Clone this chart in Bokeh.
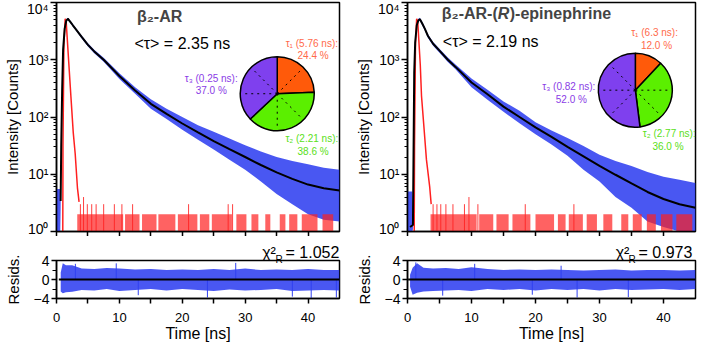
from bokeh.plotting import figure
from bokeh.layouts import row, column
from bokeh.models import Label, FixedTicker, Range1d, LinearAxis
from bokeh.embed import file_html
from bokeh.resources import INLINE

FONT = "Liberation Sans"
BLUE = "#3040F0"
RED = "#FF2020"

# ---------------- data ----------------
# left panel: beta2-AR
fit_t_L = [0.66, 0.75, 0.9, 1.05, 1.3, 1.55, 1.8, 2.2, 2.6, 3.0, 4.0, 5.0, 6.0, 7.5, 10, 12.5, 15, 17.5, 20, 22.5, 25, 27.5, 30, 32.5, 35, 37.5, 40, 42.5, 45]
fit_L = [3.4, 30, 300, 1500, 3500, 4800, 5200, 4600, 4000, 3500, 2500, 1820, 1400, 1000, 520, 290, 170, 113, 77, 54, 38, 27.5, 20, 14.5, 10.8, 8.3, 6.6, 5.7, 5.2]
data_t_L = [0.0, 0.6, 0.66, 0.75, 0.9, 1.05, 1.3, 1.55, 1.8, 2.2, 2.6, 3.0, 4.0, 5.0, 6.0, 7.5, 10, 12.5, 15, 17.5, 20, 22.5, 25, 27.5, 30, 32.5, 35, 37.5, 40, 42.5, 45]
data_hi_L = [5.5, 5.5, 5, 35, 330, 1600, 3700, 5000, 5400, 4800, 4200, 3650, 2650, 1950, 1500, 1080, 580, 330, 205, 140, 100, 72, 55, 42, 32, 25, 20, 17, 15, 13, 12]
data_lo_L = [1, 1, 2.5, 25, 270, 1400, 3300, 4600, 5000, 4400, 3800, 3350, 2350, 1700, 1300, 920, 460, 255, 140, 92, 60, 40, 27, 18, 12, 7.5, 4.5, 3, 2, 1.6, 1.5]
irf_t_L = [1.0, 1.03, 1.18, 1.38, 1.53, 1.95, 2.3, 2.66, 2.97, 3.33, 3.59]
irf_L = [1, 31, 1800, 5200, 4800, 890, 220, 54, 23, 5.8, 3.3]
floor_t0_L = [3.3, 10.9, 13.6, 16.2, 19.3, 22.8, 24.7, 28.6, 31.0, 33.2, 35.5, 37.0, 39.0, 42.3]
floor_t1_L = [10.6, 13.2, 15.9, 18.9, 22.4, 24.3, 27.9, 30.2, 32.1, 34.0, 36.4, 38.3, 41.5, 44.0]
bar_t_L = [3.8, 4.3, 4.9, 5.6, 6.3, 7.5, 9.2, 10.4, 12.1, 21.0, 27.3, 28.0]
bar_v_L = [3, 4, 3, 3, 3, 3, 3, 3, 3, 3, 3, 3]
res_t_L = [0.67, 1.0, 1.5, 2.5, 4, 6, 8, 10, 12.5, 15, 17.5, 20, 22.5, 25, 27.5, 30, 32.5, 35, 37.5, 40, 42.5, 45]
res_hi_L = [1.5, 3.4, 3.0, 3.0, 2.3, 2.2, 2.4, 2.3, 2.1, 2.2, 2.0, 2.1, 2.0, 2.2, 2.0, 2.3, 2.0, 2.1, 2.0, 2.2, 2.0, 2.0]
res_lo_L = [-2.5, -2.9, -2.7, -2.6, -2.2, -2.3, -2.0, -2.4, -2.2, -2.0, -2.3, -2.0, -2.2, -2.4, -2.1, -2.3, -2.2, -2.0, -2.4, -2.3, -2.2, -2.3]
spike_t_L = [3.0, 9.5, 13.0, 24.0, 28.5, 37.5, 40.5, 44.5]
spike_v_L = [3.3, 3.4, -3.3, -3.8, 3.5, -3.6, -3.9, -3.8]
frac_L = [24.4, 38.6, 37.0]
tau_L = ["5.76", "2.21", "0.25"]
mean_tau_L = "2.35"
chi_L = "1.052"

# right panel: beta2-AR-(R)-epinephrine
fit_t_R = [0.4, 0.85, 0.95, 1.05, 1.2, 1.45, 1.7, 1.94, 2.3, 2.7, 3.2, 4.0, 5.0, 6.3, 7.5, 10, 12.5, 15, 17.5, 20, 22.5, 25, 27.5, 30, 32.5, 35, 37.5, 40, 42.5, 45]
fit_R = [1.2, 1.3, 30, 600, 2000, 4000, 4900, 5100, 4300, 3500, 2600, 1900, 1440, 1000, 750, 400, 250, 152, 100, 66, 45, 30, 20.5, 14, 9.8, 6.9, 4.9, 3.7, 3.0, 2.6]
data_t_R = [0.0, 0.75, 0.85, 0.95, 1.05, 1.2, 1.45, 1.7, 1.94, 2.3, 2.7, 3.2, 4.0, 5.0, 6.3, 7.5, 10, 12.5, 15, 17.5, 20, 22.5, 25, 27.5, 30, 32.5, 35, 37.5, 40, 42.5, 45]
data_hi_R = [5, 5, 2, 40, 700, 2200, 4300, 5200, 5400, 4600, 3750, 2800, 2050, 1560, 1090, 830, 470, 300, 187, 128, 81, 58, 43, 31, 22, 17, 14, 11, 9, 8, 7]
data_lo_R = [1, 1, 1.1, 25, 500, 1800, 3700, 4600, 4800, 4000, 3250, 2400, 1750, 1320, 910, 680, 330, 200, 123, 78, 50, 33, 21, 12, 7.5, 4, 2.6, 1.5, 1.2, 1, 1]
irf_t_R = [1.05, 1.1, 1.25, 1.43, 1.6, 2.0, 2.19, 2.6, 2.96, 3.47, 3.7]
irf_R = [1, 30, 1900, 5200, 4600, 800, 233, 60, 18, 6, 3]
floor_t0_R = [3.6, 11.2, 13.9, 16.4, 20.0, 23.5, 25.2, 28.0, 30.6, 33.4, 35.2, 37.4, 39.6, 42.0]
floor_t1_R = [10.8, 13.4, 15.8, 19.2, 22.9, 24.7, 27.4, 29.6, 32.0, 34.5, 36.6, 38.8, 41.4, 44.5]
bar_t_R = [4.0, 4.6, 5.2, 6.0, 7.1, 8.9, 9.6, 11.0, 18.4, 26.0]
bar_v_R = [3, 3, 3, 3, 3, 3, 4, 3, 3, 3]
res_t_R = [0.4, 0.8, 1.5, 2.5, 4, 6, 8, 10, 12.5, 15, 17.5, 20, 22.5, 25, 27.5, 30, 32.5, 35, 37.5, 40, 42.5, 45]
res_hi_R = [1.0, 2.5, 3.4, 2.5, 2.3, 2.4, 2.2, 2.6, 2.2, 2.0, 2.1, 2.0, 2.1, 2.0, 1.9, 2.0, 2.1, 1.9, 2.0, 2.0, 1.9, 2.0]
res_lo_R = [-1.5, -3.2, -2.8, -2.5, -2.4, -2.3, -2.2, -2.4, -2.0, -2.2, -2.0, -2.3, -2.0, -2.2, -2.0, -2.3, -2.0, -2.2, -2.1, -2.0, -2.2, -2.0]
spike_t_R = [1.3, 5.5, 10.5, 19.5, 26.5, 34.5, 24.0]
spike_v_R = [3.6, -3.4, 3.3, -3.2, -3.8, -3.7, 2.9]
frac_R = [12.0, 36.0, 52.0]
tau_R = ["6.3", "2.77", "0.82"]
mean_tau_R = "2.19"
chi_R = "0.973"

PIE_COLORS = ["#FF5A0A", "#5BEF00", "#7F40EE"]
TXT_COLORS = ["#FF6A4A", "#5AE020", "#8A3CE6"]


def style_axis(ax, size):
    ax.axis_line_width = 1.5
    ax.axis_line_color = "black"
    ax.major_tick_line_width = 1.5
    ax.minor_tick_line_width = 1.2
    ax.major_tick_in = 0
    ax.minor_tick_in = 0
    ax.major_label_text_font = FONT
    ax.major_label_text_font_size = size
    ax.major_label_text_color = "black"
    ax.axis_label_text_font = FONT
    ax.axis_label_text_font_style = "normal"
    ax.axis_label_text_color = "black"


def main_panel(fw, bl, br, fit_t, fit, dt, dhi, dlo, it, iv, f0, f1, bt, bv, fracs, taus, mtau, layout):
    p = figure(width=fw + bl + br, height=236,
               x_range=Range1d(0, 45), y_range=Range1d(1, 1e4),
               y_axis_type="log", output_backend="svg", toolbar_location=None,
               min_border_left=bl, min_border_right=br, min_border_top=2, min_border_bottom=5)
    p.grid.visible = False
    p.outline_line_color = "black"
    p.outline_line_width = 1.5
    p.outline_line_alpha = 1
    # y axis
    style_axis(p.yaxis[0], "14px")
    p.yaxis.ticker = FixedTicker(ticks=[1, 10, 100, 1000, 10000],
                                 minor_ticks=[m * d for d in (1, 10, 100, 1000) for m in range(2, 10)])
    p.yaxis.major_label_overrides = {1: "10⁰", 10: "10¹", 100: "10²", 1000: "10³", 10000: "10⁴"}
    p.yaxis.major_tick_out = 6
    p.yaxis.minor_tick_out = 3
    p.yaxis.axis_label = "Intensity [Counts]"
    p.yaxis.axis_label_text_font_size = "15px"
    p.yaxis.major_label_standoff = 2
    p.yaxis.axis_label_standoff = 3
    # x axis: tick marks only (labels are on the residual panel)
    style_axis(p.xaxis[0], "13px")
    p.xaxis.ticker = FixedTicker(ticks=[], minor_ticks=[0, 5, 10, 15, 20, 25, 30, 35, 40])
    p.xaxis.major_tick_out = 0
    p.xaxis.major_label_standoff = 0
    p.xaxis.minor_tick_out = 5
    p.xaxis.minor_tick_line_width = 1.5

    p.varea(x=dt, y1=dlo, y2=dhi, fill_color=BLUE, fill_alpha=0.88)
    p.quad(left=f0, right=f1, bottom=[1] * len(f0), top=[2] * len(f0), fill_color=RED,
           fill_alpha=0.7, line_color=None)
    p.segment(x0=bt, y0=[1] * len(bt), x1=bt, y1=bv, line_color=RED, line_width=1, alpha=0.85)
    p.line(it, iv, line_color=RED, line_width=1.5)
    p.line(fit_t, fit, line_color="black", line_width=2)

    # pie of amplitude fractions
    cx, cy = layout["pie"]
    starts, ends = [], []
    a = 90.0
    for f in fracs:
        starts.append(a)
        a -= f * 3.6
        ends.append(a)
    p.wedge(x=[cx] * 3, y=[cy] * 3, radius=37, radius_units="screen",
            start_angle=starts, end_angle=ends, start_angle_units="deg", end_angle_units="deg",
            direction="clock", fill_color=PIE_COLORS, line_color="black", line_width=1.5)
    sp = layout["spokes"]
    p.ray(x=[cx] * len(sp), y=[cy] * len(sp), length=36, length_units="screen", angle=sp,
          angle_units="deg", line_color="black", line_dash="dotted", line_width=1)

    for i, (f, tau) in enumerate(zip(fracs, taus)):
        sub = "₁₂₃"[i]
        (x1, y1), (x2, y2) = layout["lab"][i]
        p.add_layout(Label(x=x1, y=y1, text=f"τ{sub} ({tau} ns):", text_font=FONT, text_font_size="10px",
                           text_color=TXT_COLORS[i], text_align="center", text_baseline="middle"))
        p.add_layout(Label(x=x2, y=y2, text=f"{f:.1f} %", text_font=FONT, text_font_size="10px",
                           text_color=TXT_COLORS[i], text_align="center", text_baseline="middle"))
    tx, ty = layout["tau"]
    p.add_layout(Label(x=tx, y=ty, text=f"<τ> = {mtau} ns", text_font=FONT, text_font_size="16px",
                       text_color="black", text_align="center", text_baseline="middle"))
    return p


def text_axis(p, ticks, labels, size, standoff):
    ax = LinearAxis(ticker=FixedTicker(ticks=ticks), major_label_overrides=dict(zip(ticks, labels)))
    ax.axis_line_color = None
    ax.major_tick_line_color = None
    ax.minor_tick_line_color = None
    ax.major_tick_out = 0
    ax.major_tick_in = 0
    ax.major_label_standoff = standoff
    ax.major_label_text_font = FONT
    ax.major_label_text_font_size = size
    ax.major_label_text_color = "black"
    p.add_layout(ax, "above")


def resid_panel(fw, bl, br, rt, rhi, rlo, st, sv, chi, chi_pos):
    p = figure(width=fw + bl + br, height=110,
               x_range=Range1d(0, 45), y_range=Range1d(-4, 4),
               output_backend="svg", toolbar_location=None,
               min_border_left=bl, min_border_right=br, min_border_top=24, min_border_bottom=48)
    p.grid.visible = False
    p.outline_line_color = "black"
    p.outline_line_width = 1.5
    p.outline_line_alpha = 1
    style_axis(p.yaxis[0], "14px")
    p.yaxis.ticker = FixedTicker(ticks=[-4, 0, 4], minor_ticks=[-2, 2])
    p.yaxis.major_tick_out = 5
    p.yaxis.minor_tick_out = 4
    p.yaxis.axis_label = "Resids."
    p.yaxis.axis_label_text_font_size = "15px"
    p.yaxis.major_label_standoff = 2
    p.yaxis.axis_label_standoff = 9
    style_axis(p.xaxis[0], "13px")
    p.xaxis.ticker = FixedTicker(ticks=[0, 10, 20, 30, 40], minor_ticks=[5, 15, 25, 35])
    p.xaxis.major_tick_out = 5
    p.xaxis.minor_tick_out = 5
    p.xaxis.minor_tick_line_width = 1.5
    p.xaxis.major_label_standoff = 9
    p.xaxis.axis_label = "Time [ns]"
    p.xaxis.axis_label_text_font_size = "16px"
    p.xaxis.axis_label_standoff = 0

    p.varea(x=rt, y1=rlo, y2=rhi, fill_color=BLUE, fill_alpha=0.88)
    p.segment(x0=st, y0=[0] * len(st), x1=st, y1=sv, line_color=BLUE, line_width=1)
    p.line([rt[0] - 0.3, 45], [0, 0], line_color="black", line_width=2)

    # reduced chi-square, set just above the residual box
    xc, xr, xv = chi_pos
    text_axis(p, [xr], ["R"], "10px", -4)
    text_axis(p, [xc, xv], ["χ²", f"= {chi}"], "16px", -10)
    return p


layout_L = dict(pie=(35.1, 255), spokes=[45, 135, 180, 270, 315],
                lab=[((40.6, 1950), (40.8, 1194)), ((40.6, 42.4), (40.8, 25)), ((24.6, 479), (24.6, 294))],
                tau=(20.0, 1950))
layout_R = dict(pie=(35.6, 294), spokes=[0, 315, 135, 180, 225],
                lab=[((38.6, 2970), (38.9, 1766)), ((40.9, 50.8), (40.7, 31)), ((25.2, 342), (25.6, 200))],
                tau=(13.0, 2125))

FWL, BLL, BRL = 290, 49, 10
FWR, BLR, BRR = 288, 58, 3

mL = main_panel(FWL, BLL, BRL, fit_t_L, fit_L, data_t_L, data_hi_L, data_lo_L, irf_t_L, irf_L,
                floor_t0_L, floor_t1_L, bar_t_L, bar_v_L, frac_L, tau_L, mean_tau_L, layout_L)
mL.add_layout(Label(x=16.4, y=5600, text="β₂-AR", text_font=FONT, text_font_size="16px",
                    text_font_style="bold", text_align="center", text_baseline="middle"))
mR = main_panel(FWR, BLR, BRR, fit_t_R, fit_R, data_t_R, data_hi_R, data_lo_R, irf_t_R, irf_R,
                floor_t0_R, floor_t1_R, bar_t_R, bar_v_R, frac_R, tau_R, mean_tau_R, layout_R)
mR.add_layout(Label(x=14.1, y=6500, text="β₂-AR-(", text_font=FONT, text_font_size="16px",
                    text_font_style="bold", text_align="right", text_baseline="middle"))
mR.add_layout(Label(x=14.1, y=6500, text="R", text_font=FONT, text_font_size="16px",
                    text_font_style="bold italic", text_align="left", text_baseline="middle"))
mR.add_layout(Label(x=14.1, y=6500, x_offset=12, text=")-epinephrine", text_font=FONT, text_font_size="16px",
                    text_font_style="bold", text_align="left", text_baseline="middle"))

rL = resid_panel(FWL, BLL, BRL, res_t_L, res_hi_L, res_lo_L, spike_t_L, spike_v_L, chi_L,
                 (33.8, 35.4, 40.7))
rR = resid_panel(FWR, BLR, BRR, res_t_R, res_hi_R, res_lo_R, spike_t_R, spike_v_R, chi_R,
                 (33.6, 35.1, 40.3))

page = row(column(mL, rL), column(mR, rR))
open("out.html", "w").write(file_html(page, INLINE))
